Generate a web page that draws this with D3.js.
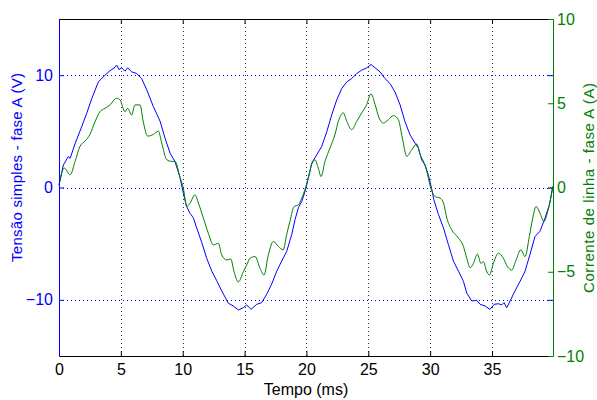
<!DOCTYPE html>
<html><head><meta charset="utf-8">
<script src="https://cdn.jsdelivr.net/npm/d3@7"></script>
<style>
body{margin:0;background:#fff}
svg{display:block}
text{font-family:"Liberation Sans Narrow","Arial Narrow","Liberation Sans",Arial,sans-serif}
</style>
</head><body>
<svg id="chart" width="597" height="400"></svg>
<script>
const voltTime = [0,0.35,0.75,0.9,1.3,1.83,2.24,2.64,3.18,3.72,4.12,4.53,4.66,4.85,5.07,5.33,5.55,5.87,6.28,6.68,7.09,7.63,8.17,8.57,8.98,9.38,9.78,10.05,10.32,10.59,10.86,11.13,11.54,11.94,12.35,12.75,13.15,13.69,14.09,14.5,14.9,15.17,15.52,15.98,16.38,16.79,17.19,17.6,18.0,18.4,18.81,19.08,19.35,19.62,19.89,20.15,20.42,20.83,21.23,21.64,22.04,22.45,22.85,23.26,23.66,24.07,24.47,24.87,25.22,25.55,25.95,26.35,26.76,27.16,27.57,27.97,28.37,28.78,29.05,29.32,29.59,29.86,30.13,30.3,30.67,31.08,31.48,31.88,32.29,32.69,32.96,33.36,33.77,34.04,34.44,34.84,35.17,35.52,35.79,35.97,36.19,36.46,36.86,37.27,37.67,38.07,38.48,38.88,39.29,39.64,39.91];
const voltValues = [0.2,2.0,2.75,2.6,3.9,5.4,6.6,7.9,9.4,10.0,10.4,10.7,10.9,10.5,10.65,10.35,10.65,10.3,10.15,9.7,8.7,7.2,5.9,4.4,3.05,2.3,0.9,-0.5,-1.7,-2.3,-2.7,-3.6,-4.9,-6.3,-7.45,-8.3,-9.2,-10.3,-10.55,-10.9,-10.7,-10.45,-10.85,-10.4,-10.25,-9.5,-8.6,-7.45,-6.55,-5.7,-4.2,-2.85,-1.8,-1.25,-0.35,0.83,2.15,2.9,3.65,4.95,6.45,7.8,8.8,9.4,9.7,10.15,10.45,10.65,10.95,10.65,10.3,9.7,9.25,8.5,7.35,5.85,4.7,3.95,3.5,2.45,2.0,1.1,-0.15,-1.1,-2.4,-3.6,-5.1,-6.55,-7.45,-8.35,-9.4,-10.1,-10.05,-10.4,-10.55,-10.85,-10.4,-10.35,-10.45,-10.25,-10.7,-10.1,-9.2,-8.35,-7.45,-5.95,-4.35,-3.9,-2.7,-1.55,0.1];

const currTime = [0,0.43,0.9,1.3,1.7,2.1,2.5,2.91,3.31,3.72,4.12,4.66,4.93,5.33,5.55,5.87,6.14,6.55,6.81,7.17,7.63,8.03,8.3,8.71,9.11,9.38,9.78,10.05,10.32,10.59,10.99,11.27,11.67,12.07,12.48,12.88,13.15,13.56,13.88,14.15,14.5,14.9,15.17,15.44,15.85,16.25,16.57,16.92,17.33,17.73,18.13,18.4,18.67,19.0,19.35,19.62,19.89,20.15,20.42,20.69,20.96,21.18,21.5,21.91,22.31,22.58,22.98,23.26,23.66,24.07,24.47,24.87,25.22,25.55,25.87,26.22,26.63,27.03,27.43,27.75,28.11,28.51,28.92,29.19,29.46,29.73,30.0,30.41,30.81,31.08,31.35,31.75,32.29,32.69,32.96,33.23,33.5,33.82,34.1,34.31,34.53,34.79,35.11,35.52,35.92,36.25,36.6,36.95,37.33,37.67,38.02,38.29,38.56,38.88,39.2,39.47,39.75,39.93];
const currValues = [0.16,1.15,0.75,1.55,2.45,2.75,3.15,3.9,4.5,4.7,4.9,5.3,5.2,4.5,4.7,4.3,4.9,4.9,3.9,3.05,3.15,3.35,2.65,1.65,1.55,1.55,0.6,-0.04,-1.13,-0.93,-0.43,-0.93,-1.82,-2.71,-3.41,-3.31,-4.0,-4.3,-4.24,-5.0,-5.6,-5.0,-4.6,-4.2,-4.1,-4.8,-5.2,-4.0,-3.2,-3.5,-3.7,-2.8,-2.0,-1.13,-1.03,-0.63,-0.1,0.6,1.35,1.65,1.15,0.65,1.55,2.35,3.15,3.93,4.43,3.93,3.43,3.93,4.43,4.92,5.56,4.92,4.13,3.83,4.03,4.27,4.03,2.94,1.85,2.24,2.58,1.95,1.55,0.95,0.1,-0.54,-0.63,-0.93,-1.82,-2.52,-3.0,-3.5,-4.2,-4.76,-4.5,-3.95,-4.5,-4.4,-4.9,-5.2,-4.5,-3.9,-4.2,-4.7,-4.9,-4.3,-3.7,-4.1,-2.9,-1.82,-1.13,-1.52,-2.02,-1.52,-0.63,0.06];

const xTicks = [0,5,10,15,20,25,30,35];
const leftTicks = [-10,0,10];
const rightTicks = [-10,-5,0,5,10];
const xTitle = "Tempo (ms)";
const leftTitle = "Tensão simples - fase A (V)";
const rightTitle = "Corrente de linha - fase A (A)";

const BLUE = "#0000ff", GREEN = "#008000";
const L = 59, R = 553, T = 19, B = 356;

const svg = d3.select("#chart");
const x = d3.scaleLinear().domain([0, 39.93]).range([L, R]);
const yL = d3.scaleLinear().domain([-15, 15]).range([B, T]);
const yR = d3.scaleLinear().domain([-10, 10]).range([B, T]);

// grid
const grid = svg.append("g").attr("shape-rendering", "crispEdges");
grid.selectAll("line.v").data(xTicks.filter(d => d > 0)).enter().append("line")
  .attr("x1", d => Math.round(x(d)) + 0.5).attr("x2", d => Math.round(x(d)) + 0.5)
  .attr("y1", T).attr("y2", B)
  .attr("stroke", "#333").attr("stroke-width", 1).attr("stroke-dasharray", "1,3");
grid.selectAll("line.h").data(leftTicks).enter().append("line")
  .attr("x1", L).attr("x2", R)
  .attr("y1", d => Math.round(yL(d)) + 0.5).attr("y2", d => Math.round(yL(d)) + 0.5)
  .attr("stroke", BLUE).attr("stroke-width", 1).attr("stroke-dasharray", "1,3");

// lines
svg.append("path").datum(voltTime.map((t, i) => [t, voltValues[i]]))
  .attr("fill", "none").attr("stroke", BLUE).attr("stroke-width", 1)
  .attr("d", d3.line().x(d => x(d[0])).y(d => yL(d[1])));
svg.append("path").datum(currTime.map((t, i) => [t, currValues[i]]))
  .attr("fill", "none").attr("stroke", GREEN).attr("stroke-width", 1)
  .attr("d", d3.line().curve(d3.curveMonotoneX).x(d => x(d[0])).y(d => yR(d[1])));

// axes
const fs = "16px";
const gTop = svg.append("g").attr("transform", `translate(0,${T})`)
  .call(d3.axisTop(x).tickValues(xTicks).tickSize(-5).tickSizeOuter(0).tickFormat(""));
gTop.selectAll("path,line").attr("stroke", "#000");

const gBottom = svg.append("g").attr("transform", `translate(0,${B})`)
  .call(d3.axisBottom(x).tickValues(xTicks).tickSize(-5).tickSizeOuter(0).tickPadding(8).tickFormat(d3.format("d")));
gBottom.selectAll("path,line").attr("stroke", "#000");
gBottom.selectAll("text").attr("fill", "#000").style("font-size", fs);

const gRightMirror = svg.append("g").attr("transform", `translate(${R},0)`)
  .call(d3.axisRight(yL).tickValues(leftTicks).tickSize(-5).tickSizeOuter(0).tickFormat(""));
gRightMirror.select("path").remove();
gRightMirror.selectAll("line").attr("stroke", BLUE);

const gLeft = svg.append("g").attr("transform", `translate(${L},0)`)
  .call(d3.axisLeft(yL).tickValues(leftTicks).tickSize(-5).tickSizeOuter(0).tickPadding(6).tickFormat(d3.format("d")));
gLeft.selectAll("path,line").attr("stroke", BLUE);
gLeft.selectAll("text").attr("fill", BLUE).style("font-size", fs);

const gRight = svg.append("g").attr("transform", `translate(${R},0)`)
  .call(d3.axisRight(yR).tickValues(rightTicks).tickSize(-5).tickSizeOuter(0).tickPadding(4).tickFormat(d3.format("d")));
gRight.selectAll("path,line").attr("stroke", GREEN);
gRight.selectAll("text").attr("fill", GREEN).style("font-size", fs);

svg.selectAll(".domain").attr("stroke-width", 1);
svg.selectAll(".tick line").attr("stroke-width", 1);

// titles
svg.append("text").attr("x", (L + R) / 2).attr("y", 395).attr("text-anchor", "middle")
  .attr("fill", "#000").style("font-size", fs).text(xTitle);
svg.append("text").attr("transform", "translate(22,167.5) rotate(-90)").attr("text-anchor", "middle")
  .attr("fill", BLUE).style("font-size", "15px").style("font-family", "'Liberation Sans',Arial,sans-serif")
  .attr("textLength", 189).attr("lengthAdjust", "spacing").text(leftTitle);
svg.append("text").attr("transform", "translate(594,188) rotate(-90)").attr("text-anchor", "middle")
  .attr("fill", GREEN).style("font-size", "15px").style("font-family", "'Liberation Sans',Arial,sans-serif")
  .attr("textLength", 210).attr("lengthAdjust", "spacing").text(rightTitle);
</script>
</body></html>
